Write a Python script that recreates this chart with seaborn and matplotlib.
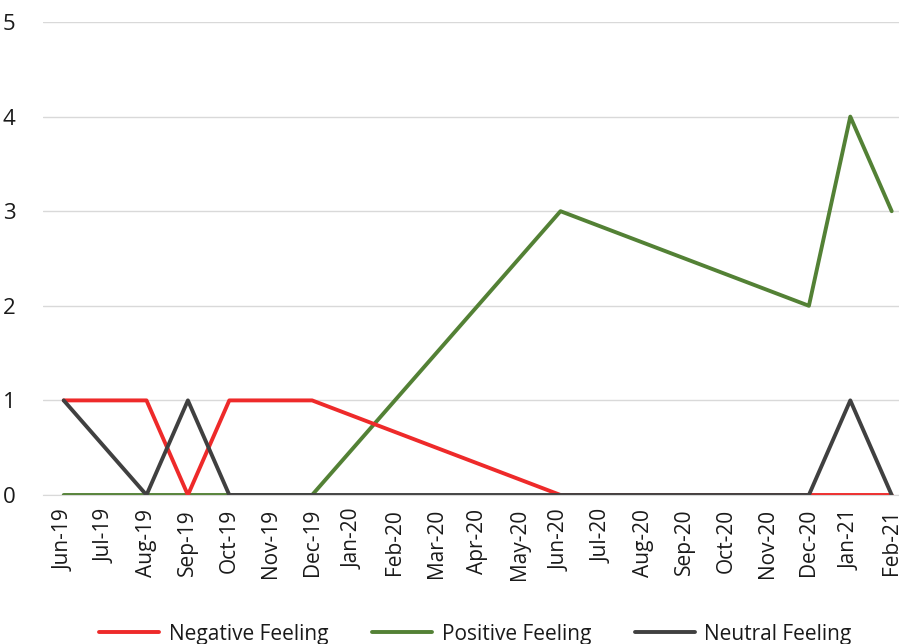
import numpy as np
import pandas as pd
import matplotlib
matplotlib.use("Agg")
import matplotlib.pyplot as plt
import seaborn as sns

# axis months (Jun-19 .. Feb-21)
months = ["Jun-19", "Jul-19", "Aug-19", "Sep-19", "Oct-19", "Nov-19", "Dec-19",
          "Jan-20", "Feb-20", "Mar-20", "Apr-20", "May-20", "Jun-20", "Jul-20",
          "Aug-20", "Sep-20", "Oct-20", "Nov-20", "Dec-20", "Jan-21", "Feb-21"]

# months that actually have observations
obs_months = ["Jun-19", "Aug-19", "Sep-19", "Oct-19", "Dec-19",
              "Jun-20", "Dec-20", "Jan-21", "Feb-21"]
negative = [1, 1, 0, 1, 1, 0, 0, 0, 0]
positive = [0, 0, 0, 0, 0, 3, 2, 4, 3]
neutral = [1, 0, 1, 0, 0, 0, 0, 1, 0]

series_names = ["Negative Feeling", "Positive Feeling", "Neutral Feeling"]
colors = ["#EE2A2A", "#538135", "#404040"]

rows = []
for name, vals in zip(series_names, [negative, positive, neutral]):
    for m, v in zip(obs_months, vals):
        rows.append({"month": m, "pos": months.index(m), "value": v, "series": name})
df = pd.DataFrame(rows)

sns.set_style("white")
plt.rcParams['font.family'] = ['Open Sans', 'DejaVu Sans']

fig = plt.figure(figsize=(8.99, 6.44), dpi=100)
# right edge of the plot runs past the image, as in the original
ax = fig.add_axes([43 / 899, (644 - 495) / 644, (21 * 41.4) / 899, (495 - 22) / 644])

# gray drawn last so it sits on top at zero
order = ["Positive Feeling", "Negative Feeling", "Neutral Feeling"]
pal = dict(zip(series_names, colors))
for name in order:
    sub = df[df["series"] == name]
    sns.lineplot(data=sub, x="pos", y="value", color=pal[name], lw=2.8,
                 ax=ax, label=name, legend=False, sort=False)

ax.set_xlim(-0.5, 20.5)
ax.set_ylim(0, 5)
ax.set_yticks(range(0, 6))
ax.yaxis.grid(True, color="#D9D9D9", lw=1)
ax.set_axisbelow(True)
ax.set_xticks(range(len(months)))
ax.set_xticklabels(months, rotation=90, fontsize=15, color="#1a1a1a")
ax.set_xticks(np.arange(-0.5, 21, 1), minor=True)
ax.tick_params(axis="x", which="major", length=0, pad=10)
ax.tick_params(axis="x", which="minor", length=6, color="#D9D9D9", width=1)
ax.tick_params(axis="y", length=0, labelsize=16, colors="#1a1a1a", pad=20)
for s in ["top", "right", "left"]:
    ax.spines[s].set_visible(False)
ax.spines["bottom"].set_color("#D9D9D9")
ax.set_xlabel("")
ax.set_ylabel("")

handles = {l: h for h, l in zip(*ax.get_legend_handles_labels())}
fig.legend([handles[n] for n in series_names], series_names,
           loc="lower left", bbox_to_anchor=(80 / 899, -0.03), ncol=3,
           frameon=False, fontsize=15, handlelength=2.9, handletextpad=0.45,
           columnspacing=2.1, labelcolor="#1a1a1a")

fig.savefig("out.png", dpi=100)
